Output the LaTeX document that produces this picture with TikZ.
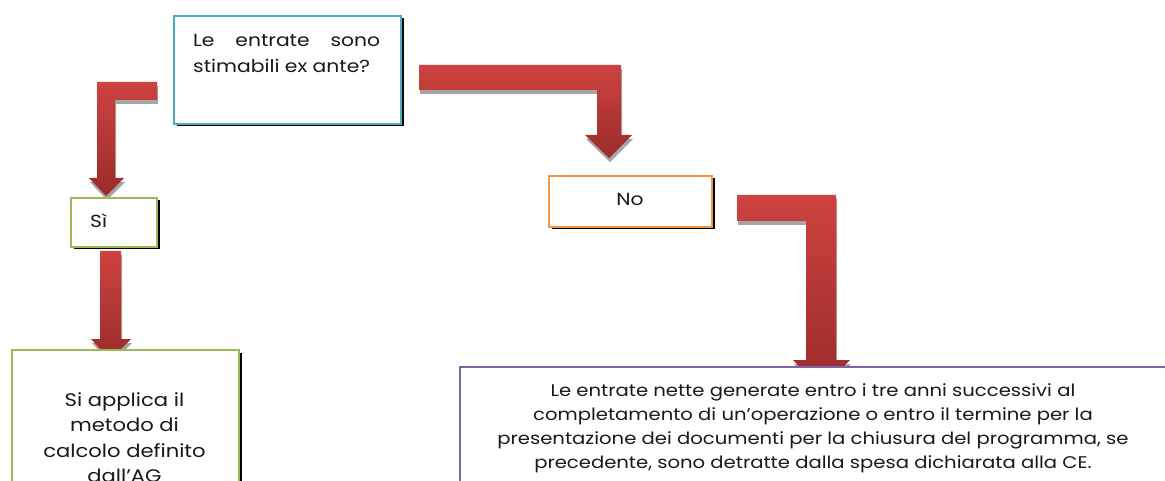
\documentclass[tikz,border=0pt]{standalone}
\usepackage{fontspec}
\setmainfont{Poppins}[FakeStretch=1.16]
\usetikzlibrary{shadows}
\definecolor{qblue}{HTML}{4BACC6}
\definecolor{qgreen}{HTML}{9BBB59}
\definecolor{qorange}{HTML}{F79646}
\definecolor{qpurple}{HTML}{8064A2}
\definecolor{arrtop}{RGB}{206,66,64}
\definecolor{arrbot}{RGB}{154,44,42}
\definecolor{arrshadow}{RGB}{165,165,165}
\tikzset{
  boxnode/.style={draw=#1, line width=2pt, fill=white, inner sep=0pt, anchor=north west,
    drop shadow={shadow xshift=2.5pt, shadow yshift=-2.5pt, fill=black, opacity=1}},
  txt/.style={inner sep=0pt, text=black!90},
  bigfont/.style={font=\fontsize{17.5}{26}\selectfont},
  midfont/.style={font=\fontsize{18.2}{25.5}\selectfont},
  smallfont/.style={font=\fontsize{16.9}{23.7}\selectfont},
  redarr/.style={top color=arrtop, bottom color=arrbot, draw=none},
  arrshad/.style={fill=arrshadow, draw=none, shift={(1,4)}}
}
\def\arrA{(157,82) -- (97,82) -- (97,178) -- (89,178) -- (106,196) -- (124,178) -- (115,178) -- (115,100) -- (157,100) -- cycle}
\def\arrB{(419,65) -- (621,65) -- (621,135) -- (632,135) -- (609,158) -- (585,135) -- (597,135) -- (597,90) -- (419,90) -- cycle}
\def\arrC{(737,195) -- (836,195) -- (836,360) -- (850,360) -- (821,389) -- (793,360) -- (806,360) -- (806,221) -- (737,221) -- cycle}
\def\arrD{(100,251) -- (121,251) -- (121,339) -- (131,339) -- (110.5,360) -- (91,339) -- (100,339) -- cycle}
\begin{document}
\begin{tikzpicture}[x=1pt,y=-1pt]
\useasboundingbox (0,0) rectangle (1165,481);
\clip (0,0) rectangle (1165,481);
% block arrows
\foreach \a in {\arrA,\arrB,\arrC,\arrD}{
  \fill[arrshad] \a;
  \shade[redarr] \a;
}
% boxes
\node[boxnode=qblue, minimum width=227, minimum height=108] (q) at (173,15) {};
\node[boxnode=qgreen, minimum width=86, minimum height=49] (si) at (70,197) {};
\node[boxnode=qorange, minimum width=163, minimum height=51] (no) at (548,175) {};
\node[boxnode=qgreen, minimum width=227, minimum height=200] (ag) at (11,349) {};
\node[boxnode=qpurple, minimum width=710, minimum height=200] (ce) at (459,366) {};
% texts (anchor base = baseline of the last line)
\node[txt, bigfont, anchor=base west, align=left] (qt) at (193,73)
  {\makebox[187pt][s]{Le entrate sono}\\stimabili ex ante?};
\node[txt, bigfont, anchor=base west] (sit) at (90,228) {Sì};
\node[txt, bigfont, anchor=base] (not) at (630,206) {No};
\node[txt, midfont, anchor=base, align=center] (agt) at (124.5,482.5)
  {Si applica il\\metodo di\\calcolo definito\\dall’AG};
\node[txt, smallfont, anchor=base, align=center] (cet) at (813,468)
  {Le entrate nette generate entro i tre anni successivi al\\
   completamento di un’operazione o entro il termine per la\\
   presentazione dei documenti per la chiusura del programma, se\\
   precedente, sono detratte dalla spesa dichiarata alla CE.};
\end{tikzpicture}
\end{document}
